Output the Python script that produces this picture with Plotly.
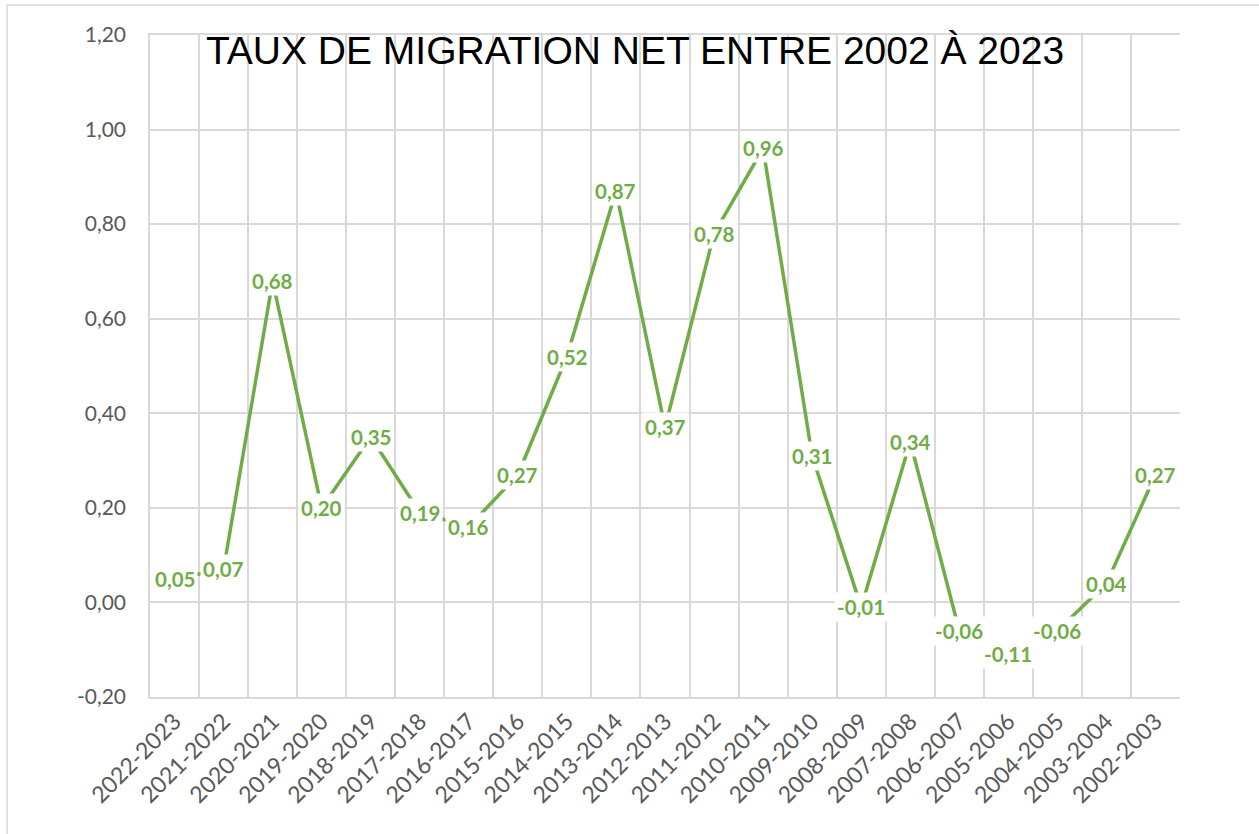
import plotly.graph_objects as go

periods = ["2022-2023", "2021-2022", "2020-2021", "2019-2020", "2018-2019", "2017-2018",
           "2016-2017", "2015-2016", "2014-2015", "2013-2014", "2012-2013", "2011-2012",
           "2010-2011", "2009-2010", "2008-2009", "2007-2008", "2006-2007", "2005-2006",
           "2004-2005", "2003-2004", "2002-2003"]
taux = [0.05, 0.07, 0.68, 0.20, 0.35, 0.19, 0.16, 0.27, 0.52, 0.87, 0.37, 0.78,
        0.96, 0.31, -0.01, 0.34, -0.06, -0.11, -0.06, 0.04, 0.27]
y_ticks = [-0.20, 0.00, 0.20, 0.40, 0.60, 0.80, 1.00, 1.20]
y_tick_text = ["-0,20", "0,00", "0,20", "0,40", "0,60", "0,80", "1,00", "1,20"]
title_text = "TAUX DE MIGRATION NET ENTRE 2002 À 2023"

GREEN = "#70ad47"
GRID = "#d9d9d9"
TXT = "#595959"
W, H = 1259, 834
L, R, T, B = 150, 79, 35, 137
pw, ph = W - L - R, H - T - B
ymin, ymax = -0.2, 1.2

fig = go.Figure()
fig.add_trace(go.Scatter(x=periods, y=taux, mode="lines",
                         line=dict(color=GREEN, width=3.5), hoverinfo="x+y",
                         showlegend=False))

for p, v in zip(periods, taux):
    fig.add_annotation(x=p, y=v, xref="x", yref="y", showarrow=False,
                       text=f"{v:.2f}".replace(".", ","),
                       font=dict(family="Lato", size=20.5, color=GREEN, weight="bold"),
                       bgcolor="white", borderpad=2)

zero_pos = (0 - ymin) / (ymax - ymin)

fig.update_layout(
    width=W, height=H,
    margin=dict(l=L, r=R, t=T, b=B),
    paper_bgcolor="white", plot_bgcolor="white",
    title=dict(text=title_text, x=635 / W, xanchor="center", xref="container",
               y=1 - 50 / H, yanchor="middle", yref="container",
               font=dict(family="Liberation Sans", size=39, color="black")),
    xaxis=dict(type="category", categoryarray=periods, range=[-0.5, len(periods) - 0.5],
               tickson="boundaries", showgrid=True, gridcolor=GRID, gridwidth=1.5,
               ticks="", tickangle=-45, showline=True, linecolor=GRID, linewidth=1.5,
               mirror=True,
               tickfont=dict(family="Lato", size=23, color=TXT)),
    xaxis2=dict(overlaying="x", anchor="free", position=zero_pos, type="linear",
                range=[-0.5, len(periods) - 0.5], tickmode="array",
                tickvals=list(range(len(periods))), showticklabels=False,
                ticks="outside", ticklen=5, tickcolor=GRID, tickwidth=1.5,
                showline=True, linecolor=GRID, linewidth=1.5, showgrid=False,
                zeroline=False),
    yaxis=dict(range=[ymin, ymax], tickmode="array", tickvals=y_ticks, ticktext=y_tick_text,
               showgrid=True, gridcolor=GRID, gridwidth=1.5, zeroline=False,
               showline=True, linecolor=GRID, linewidth=1.5, ticks="",
               ticklabelstandoff=18,
               tickfont=dict(family="Lato", size=21, color=TXT)),
    yaxis2=dict(overlaying="y", side="right", anchor="x", range=[ymin, ymax],
                tickmode="array", tickvals=y_ticks, showticklabels=False,
                ticks="outside", ticklen=8, tickcolor=GRID, tickwidth=1.5,
                minor=dict(dtick=0.04, tick0=0, ticks="inside", ticklen=5,
                           tickcolor=GRID, tickwidth=1.5, showgrid=False),
                showline=True, linecolor=GRID, linewidth=1.5, showgrid=False,
                zeroline=False),
)

fig.add_shape(type="rect", xref="paper", yref="paper",
              x0=(7 - L) / pw, x1=(W + 6 - L) / pw,
              y0=-(B + 6) / ph, y1=1 + (T - 5) / ph,
              line=dict(color=GRID, width=1.5), layer="below")

fig.write_html("out.html", config={"displayModeBar": False},
               post_script="document.body.style.margin='0';document.body.style.padding='0';")
